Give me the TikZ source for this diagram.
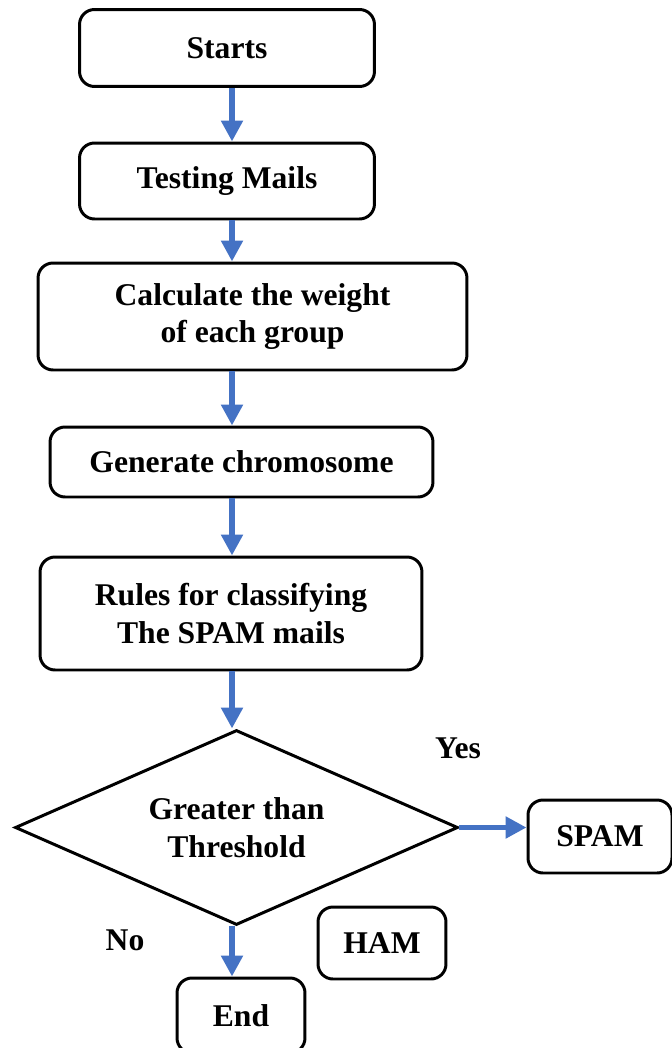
\documentclass[tikz,border=0pt]{standalone}
\usepackage{fontspec}
\setmainfont{Liberation Serif}
\usetikzlibrary{arrows.meta,shapes.geometric}
\definecolor{flowblue}{HTML}{4472C4}

\begin{document}
\begin{tikzpicture}[x=0.02cm,y=-0.02cm,
    font=\fontsize{18}{21.5}\selectfont\bfseries,
    box/.style={draw,line width=1.7pt,rounded corners=0.3cm,align=center,inner sep=0pt},
    decision/.style={draw,diamond,line width=1.7pt,align=center,inner sep=0pt,
      minimum width=8.86cm,minimum height=3.9cm,aspect=2.27},
    flow/.style={flowblue,line width=3.4pt,-{Triangle[width=0.42cm,length=0.42cm]}}]

      \useasboundingbox (0,0) rectangle (672,1048);
      \coordinate (spine) at (232,0);

      % main column
      \node[box,minimum width=5.9cm,minimum height=1.54cm] (start) at (227,48) {Starts};
      \node[box,minimum width=5.9cm,minimum height=1.52cm] (test) at (227,181) {Testing Mails};
      \node[box,minimum width=8.58cm,minimum height=2.14cm] (weight) at (252.5,316.5) {Calculate the weight\\of each group};
      \node[box,minimum width=7.66cm,minimum height=1.4cm] (chrom) at (241.5,462) {Generate chromosome};
      \node[box,minimum width=7.64cm,minimum height=2.26cm] (rules) at (231,613.5) {Rules for classifying\\The SPAM mails};
      \node[decision] (thresh) at (236.5,827.5) {Greater than\\Threshold};

      % outcomes
      \node[box,minimum width=2.88cm,minimum height=1.46cm] (spam) at (600,836.5) {SPAM};
      \node[box,minimum width=2.56cm,minimum height=1.44cm] (ham) at (382,943) {HAM};
      \node[box,minimum width=2.56cm,minimum height=1.5cm] (stop) at (241,1015.5) {End};

      \node (yes) at (458,748) {Yes};
      \node (no) at (125,940) {No};

      % arrows
      \draw[flow] (start.south -| spine) -- (test.north -| spine);
      \draw[flow] (test.south -| spine) -- (weight.north -| spine);
      \draw[flow] (weight.south -| spine) -- (chrom.north -| spine);
      \draw[flow] (chrom.south -| spine) -- (rules.north -| spine);
      \draw[flow] (rules.south -| spine) -- (thresh.north -| spine);
      \draw[flow] (thresh.east) -- (thresh.east -| spam.west);
      \draw[flow] (thresh.south -| spine) -- (stop.north -| spine);
  \end{tikzpicture}
\end{document}
